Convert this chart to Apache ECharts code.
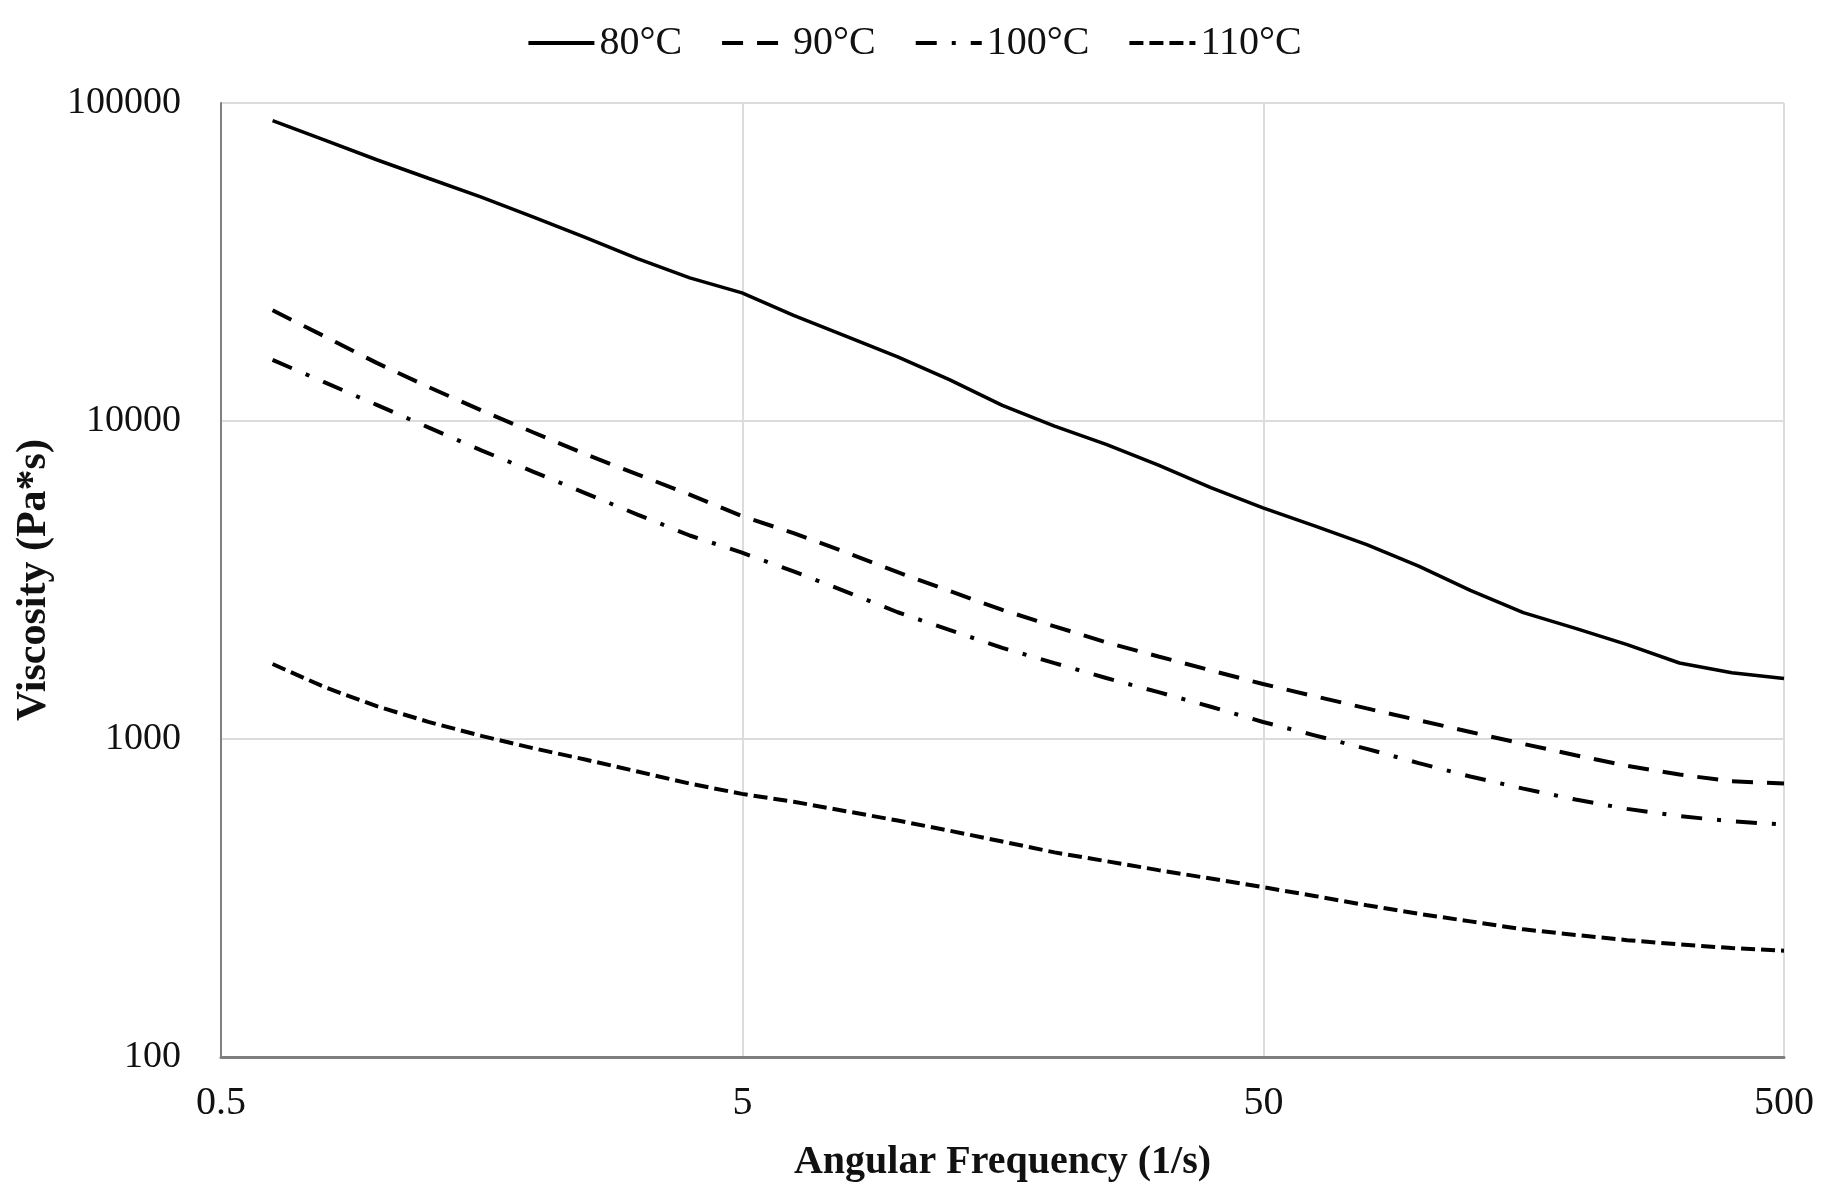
<!DOCTYPE html>
<html>
<head>
<meta charset="utf-8">
<title>Viscosity vs angular frequency</title>
<script src="https://cdn.jsdelivr.net/npm/echarts@6/dist/echarts.min.js"></script>
<style>
    html, body { margin: 0; padding: 0; background: #fff; }
    #chart { width: 1828px; height: 1191px; }
</style>
</head>
<body>
<div id="chart"></div>
<script>
// Angular frequency (1/s)
const frequency = [0.628, 0.791, 0.995, 1.25, 1.58, 1.99, 2.5, 3.15, 3.97, 5,
    6.28, 7.91, 9.95, 12.5, 15.8, 19.9, 25, 31.5, 39.7, 50,
    62.8, 79.1, 99.5, 125, 158, 199, 250, 315, 397, 500];

// Viscosity (Pa*s) for each temperature
const visc80 = [88000, 76400, 66300, 58000, 50600, 43800, 37800, 32400, 28200, 25300,
    21500, 18500, 15900, 13500, 11200, 9640, 8440, 7260, 6170, 5330,
    4680, 4085, 3497, 2935, 2497, 2228, 1980, 1734, 1615, 1549];
const visc90 = [22300, 18440, 15230, 12800, 10800, 9200, 7870, 6790, 5870, 5020,
    4440, 3865, 3346, 2922, 2547, 2260, 2014, 1818, 1643, 1489,
    1363, 1248, 1145, 1052, 965, 889, 823, 773, 736, 724];
const visc100 = [15560, 13220, 11240, 9550, 8085, 6920, 5935, 5080, 4365, 3855,
    3365, 2909, 2504, 2203, 1935, 1732, 1555, 1404, 1263, 1131,
    1027, 931, 840, 762, 698, 645, 603, 572, 551, 538];
const visc110 = [1721, 1455, 1268, 1132, 1023, 935, 862, 790, 724, 672,
    635, 593, 554, 515, 476, 440, 413, 387, 364, 342,
    321, 300, 282, 267, 252, 242, 233, 226, 220, 216];

const seriesNames = ['80°C', '90°C', '100°C', '110°C'];
const seriesValues = [visc80, visc90, visc100, visc110];
const dashTypes = ['solid', [21, 14], [21, 15, 4, 15], [14, 6]];
const lineWidths = [3.5, 4, 4, 4];

const serifFont = '"Liberation Serif", "Times New Roman", serif';

const chart = echarts.init(document.getElementById('chart'));

const option = {
    backgroundColor: '#ffffff',
    animation: false,
    legend: {
        top: 18,
        left: 'center',
        itemWidth: 66,
        itemHeight: 14,
        itemGap: 38,
        itemStyle: {opacity: 0},
        lineStyle: {width: 4},
        textStyle: {
            fontFamily: serifFont,
            fontSize: 40,
            color: '#111'
        },
        data: seriesNames
    },
    grid: {
        left: 221,
        right: 44,
        top: 103,
        bottom: 134
    },
    xAxis: {
        type: 'log',
        logBase: 10,
        min: 0.5,
        max: 500,
        interval: 1,
        name: 'Angular Frequency (1/s)',
        nameLocation: 'middle',
        nameGap: 86,
        nameTextStyle: {
            fontFamily: serifFont,
            fontSize: 40,
            fontWeight: 'bold',
            color: '#111'
        },
        axisLine: {lineStyle: {color: '#7f7f7f', width: 3}},
        axisTick: {show: false},
        axisLabel: {
            margin: 26,
            fontFamily: serifFont,
            fontSize: 40,
            color: '#111',
            formatter: v => String(Number(v.toPrecision(1)))
        },
        splitLine: {show: true, lineStyle: {color: '#dcdcdc', width: 2}}
    },
    yAxis: {
        type: 'log',
        logBase: 10,
        min: 100,
        max: 100000,
        interval: 1,
        name: 'Viscosity (Pa*s)',
        nameLocation: 'middle',
        nameGap: 166,
        nameTextStyle: {
            fontFamily: serifFont,
            fontSize: 42,
            fontWeight: 'bold',
            color: '#111'
        },
        axisLine: {show: true, lineStyle: {color: '#808080', width: 2}},
        axisTick: {show: false},
        axisLabel: {
            margin: 40,
            fontFamily: serifFont,
            fontSize: 38,
            color: '#111',
            formatter: v => String(Math.round(v))
        },
        splitLine: {show: true, lineStyle: {color: '#dcdcdc', width: 2}}
    },
    series: seriesNames.map((name, i) => ({
        name: name,
        type: 'line',
        data: frequency.map((f, j) => [f, seriesValues[i][j]]),
        symbol: 'none',
        smooth: false,
        lineStyle: {
            color: '#000',
            width: lineWidths[i],
            type: dashTypes[i],
            cap: 'butt'
        },
        itemStyle: {color: '#000'}
    }))
};

chart.setOption(option);
</script>
</body>
</html>
